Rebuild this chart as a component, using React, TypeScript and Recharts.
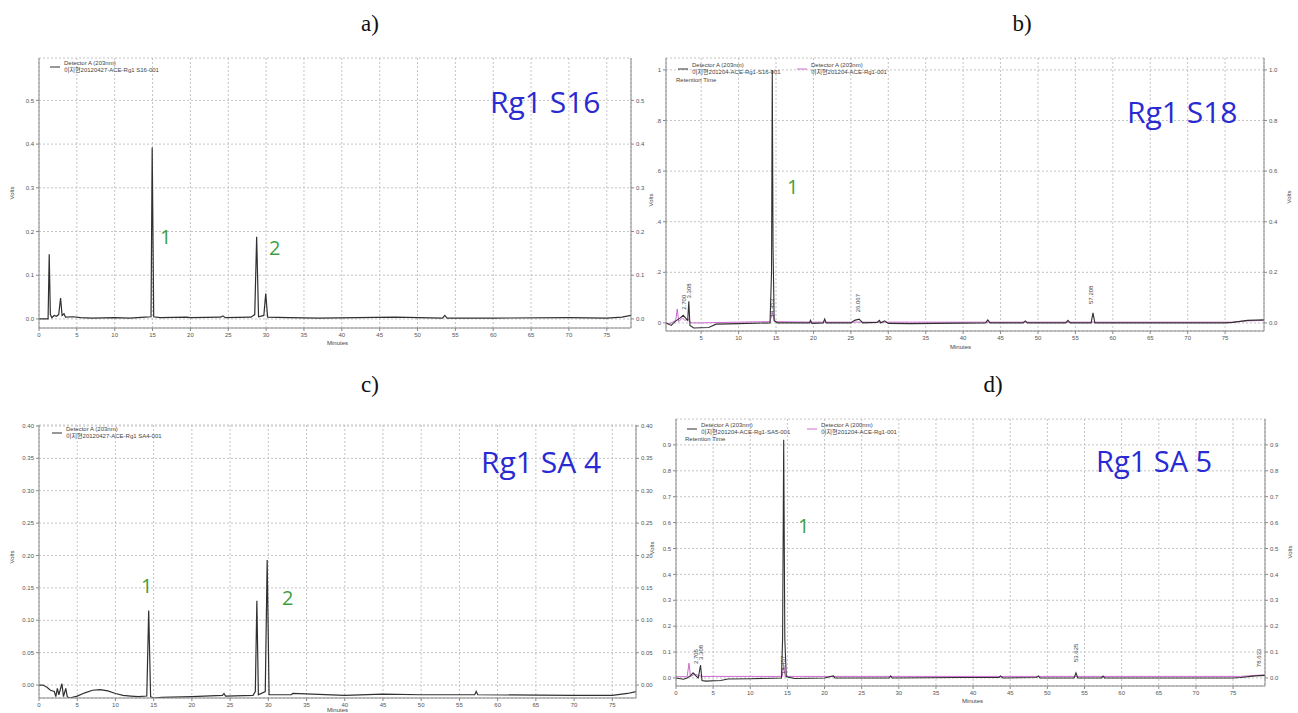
import React from 'react';
import { LineChart, Line, XAxis, YAxis, CartesianGrid, ReferenceDot } from 'recharts';

// ---------- data (time in minutes, signal in volts) ----------
const s16Trace = [
  [0, 0.0], [1.2, 0.0], [1.35, 0.148], [1.5, 0.01], [1.7, 0.003], [2.0, 0.008], [2.3, 0.006], [2.6, 0.01],
  [2.85, 0.048], [3.05, 0.008], [3.3, 0.012], [3.5, 0.004], [4.5, 0.005], [5.5, 0.003], [7, 0.002], [10, 0.003],
  [12, 0.002], [14, 0.004], [14.8, 0.005], [14.95, 0.392], [15.15, 0.005], [16, 0.003], [19.5, 0.004], [20, 0.003],
  [24, 0.004], [24.3, 0.007], [24.6, 0.003], [28, 0.004], [28.5, 0.01], [28.75, 0.188], [29.0, 0.005], [29.7, 0.008],
  [29.95, 0.058], [30.2, 0.004], [33, 0.003], [37, 0.002], [47, 0.004], [53.3, 0.002], [53.6, 0.008], [53.9, 0.002],
  [60, 0.002], [70, 0.003], [75, 0.002], [77, 0.004], [78.2, 0.008],
];

const s18Sample = [
  [0.3, 0.0], [1.0, -0.01], [1.5, 0.005], [2.2, 0.02], [2.6, 0.03], [2.9, 0.02], [3.2, 0.01], [3.35, 0.085],
  [3.5, -0.01], [4, -0.02], [6, -0.018], [7, -0.005], [10, -0.003], [14.2, 0.0], [14.4, 0.2], [14.5, 1.0],
  [14.6, 0.3], [14.75, 0.01], [15.2, 0.0], [19.5, 0.0], [19.6, 0.01], [19.8, -0.002], [21.3, 0.0], [21.5, 0.015],
  [21.7, 0.0], [25, 0.0], [25.5, 0.01], [26.1, 0.015], [26.6, 0.0], [28.5, 0.002], [28.8, 0.01], [29, 0.0],
  [29.5, 0.008], [30, -0.002], [33, -0.003], [43, 0.0], [43.3, 0.012], [43.6, 0.0], [48, 0.0], [48.3, 0.008],
  [48.6, 0.0], [53.7, 0.0], [54, 0.01], [54.3, 0.0], [57.1, 0.0], [57.35, 0.04], [57.6, 0.0], [75, 0.0],
  [76, 0.002], [78, 0.01], [80.2, 0.012],
];
const s18Blank = [
  [0.3, -0.005], [1.0, 0.0], [1.6, 0.01], [1.8, 0.055], [2.0, 0.005], [2.5, 0.02], [2.8, 0.01], [3.3, 0.015],
  [3.6, 0.0], [5, 0.0], [10, 0.003], [14.2, 0.005], [14.5, 0.04], [14.8, 0.005], [20, 0.003], [40, 0.003],
  [60, 0.003], [76, 0.003], [78, 0.008], [80.2, 0.01],
];
const s18Times = [
  { t: 2.7, v: 0.04, text: '2.700' }, { t: 3.4, v: 0.085, text: '3.308' }, { t: 14.5, v: 0.01, text: '14.453' },
  { t: 26.07, v: 0.03, text: '26.067' }, { t: 57.2, v: 0.063, text: '57.208' },
];

const sa4Trace = [
  [0, 0.0], [0.5, 0.0], [1, -0.003], [1.5, -0.008], [2.0, -0.01], [2.2, -0.018], [2.4, -0.005], [2.6, -0.015],
  [3.0, 0.002], [3.2, -0.018], [3.5, -0.005], [3.7, -0.018], [4, -0.02], [5, -0.017], [6, -0.012], [7, -0.008],
  [8, -0.007], [9, -0.009], [10, -0.013], [11, -0.016], [12, -0.017], [13, -0.018], [14.1, -0.017], [14.35, 0.115],
  [14.6, -0.018], [15, -0.02], [16, -0.019], [20, -0.018], [24, -0.016], [24.2, -0.013], [24.4, -0.017], [28, -0.016],
  [28.3, -0.01], [28.5, 0.13], [28.7, -0.015], [29.6, -0.01], [29.85, 0.193], [30.1, -0.015], [33, -0.015],
  [33.2, -0.013], [40, -0.016], [45, -0.014], [50, -0.015], [57, -0.015], [57.2, -0.01], [57.4, -0.015],
  [70, -0.016], [75, -0.016], [77, -0.013], [78.1, -0.01],
];

const sa5Sample = [
  [0, 0.0], [1, -0.005], [1.5, 0.0], [2.0, 0.01], [2.3, 0.02], [2.6, 0.01], [3.0, 0.0], [3.3, 0.05],
  [3.5, -0.01], [4, -0.012], [6, -0.01], [7, -0.004], [10, -0.003], [14.2, 0.0], [14.35, 0.15], [14.5, 0.92],
  [14.65, 0.15], [14.85, 0.005], [16, -0.002], [20, 0.0], [21.2, 0.008], [21.4, 0.0], [28.7, 0.0], [28.9, 0.008],
  [29.1, 0.0], [38, 0.002], [43.5, 0.002], [43.7, 0.008], [44, 0.0], [48.5, 0.002], [48.8, 0.008], [49, 0.0],
  [53.6, 0.0], [53.85, 0.02], [54.1, 0.0], [57.3, 0.0], [57.5, 0.007], [57.7, 0.0], [75, 0.0], [76, 0.002],
  [78, 0.008], [79.3, 0.01],
];
const sa5Blank = [
  [0, 0.005], [1.5, 0.005], [1.75, 0.057], [1.95, 0.005], [2.5, 0.015], [3, 0.01], [3.5, 0.006], [10, 0.006],
  [14.3, 0.006], [14.5, 0.05], [14.7, 0.006], [40, 0.006], [76, 0.006], [78, 0.01], [79.3, 0.012],
];
const sa5Times = [
  { t: 2.8, v: 0.042, text: '2.705' }, { t: 3.4, v: 0.058, text: '3.308' }, { t: 14.45, v: 0.004, text: '14.457' },
  { t: 53.9, v: 0.05, text: '53.625' }, { t: 78.6, v: 0.03, text: '78.633' },
];

const minuteTicks = [0, 5, 10, 15, 20, 25, 30, 35, 40, 45, 50, 55, 60, 65, 70, 75];
const minuteTicksB = [5, 10, 15, 20, 25, 30, 35, 40, 45, 50, 55, 60, 65, 70, 75];
const voltTicksA = [0, 0.1, 0.2, 0.3, 0.4, 0.5];
const voltTicksB = [0, 0.2, 0.4, 0.6, 0.8, 1.0];
const voltTicksC = [0, 0.05, 0.1, 0.15, 0.2, 0.25, 0.3, 0.35, 0.4];
const voltTicksD = [0, 0.1, 0.2, 0.3, 0.4, 0.5, 0.6, 0.7, 0.8, 0.9];

const toPts = (arr: number[][]) => arr.map(([t, v]) => ({ t, v }));

// ---------- styles ----------
const SAMPLE = '#303030';
const BLANK = '#cf6ad0';
const FRAME = '#8a8a8a';
const TICK = { fontSize: 6, fill: '#555', fontFamily: 'Arial, "Liberation Sans", sans-serif' };
const SMALL_FONT = 'Arial, "Liberation Sans", "Noto Sans CJK KR", sans-serif';

const f1 = (v: number) => v.toFixed(1);
const f2 = (v: number) => v.toFixed(2);
const fShort = (v: number) => (v === 0 ? '0' : v === 1 ? '1' : v.toFixed(1).replace('0.', '.'));

const rtLabel = (text: string) => (props: any) => {
  const vb = props.viewBox || {};
  const x = (vb.x ?? 0) + (vb.width ?? 0) / 2;
  const y = (vb.y ?? 0) + (vb.height ?? 0) / 2 - 3;
  return (
    <text x={x} y={y} transform={`rotate(-90 ${x} ${y})`} textAnchor="start" dominantBaseline="middle"
      fontSize={6} fill="#444" fontFamily={SMALL_FONT}>{text}</text>
  );
};

type Cfg = {
  left: number; top: number; width: number; height: number;
  mTop: number; yl: number; yr: number; xh: number;
  xDomain: [number, number]; yDomain: [number, number];
  xTicks: number[]; yTicks: number[];
  lf: (v: number) => string; rf: (v: number) => string;
  series: { data: number[][]; color: string; w: number }[];
  times?: { t: number; v: number; text: string }[];
};

function Panel({ c }: { c: Cfg }) {
  return (
    <div style={{ position: 'absolute', left: c.left, top: c.top }}>
      <LineChart width={c.width} height={c.height} margin={{ top: c.mTop, right: 0, bottom: 0, left: 0 }}>
        <CartesianGrid stroke="#c4c4c4" strokeDasharray="2 2" />
        <XAxis dataKey="t" type="number" domain={c.xDomain} ticks={c.xTicks} allowDataOverflow
          height={c.xh} tick={TICK} tickLine={{ stroke: FRAME }} tickSize={3} axisLine={{ stroke: FRAME }}
          interval={0} />
        <XAxis xAxisId="top" orientation="top" type="number" domain={c.xDomain} allowDataOverflow
          height={0} tick={false} tickLine={false} axisLine={{ stroke: FRAME }} />
        <YAxis type="number" domain={c.yDomain} ticks={c.yTicks} allowDataOverflow width={c.yl}
          tick={TICK} tickFormatter={c.lf} tickLine={{ stroke: FRAME }} tickSize={3} axisLine={{ stroke: FRAME }}
          interval={0} />
        <YAxis yAxisId="r" orientation="right" type="number" domain={c.yDomain} ticks={c.yTicks} allowDataOverflow
          width={c.yr} tick={TICK} tickFormatter={c.rf} tickLine={{ stroke: FRAME }} tickSize={3}
          axisLine={{ stroke: FRAME }} interval={0} />
        {c.series.map((s, i) => (
          <Line key={i} data={toPts(s.data)} dataKey="v" type="linear" stroke={s.color} strokeWidth={s.w}
            dot={false} activeDot={false} isAnimationActive={false} />
        ))}
        {(c.times || []).map((a, i) => (
          <ReferenceDot key={'rt' + i} x={a.t} y={a.v} r={1} fill="none" stroke="none" ifOverflow="visible"
            label={{ content: rtLabel(a.text) } as any} />
        ))}
      </LineChart>
    </div>
  );
}

const panels: Cfg[] = [
  {
    left: 0, top: 40, width: 660, height: 310, mTop: 18, yl: 39, yr: 29, xh: 22,
    xDomain: [0, 78.2], yDomain: [-0.0207, 0.597], xTicks: minuteTicks, yTicks: voltTicksA, lf: f1, rf: f1,
    series: [{ data: s16Trace, color: SAMPLE, w: 1.2 }],
  },
  {
    left: 640, top: 40, width: 658, height: 315, mTop: 18, yl: 26, yr: 34, xh: 24,
    xDomain: [0.3, 80.2], yDomain: [-0.032, 1.047], xTicks: minuteTicksB, yTicks: voltTicksB, lf: fShort, rf: f1,
    series: [{ data: s18Blank, color: BLANK, w: 1 }, { data: s18Sample, color: SAMPLE, w: 1.1 }],
    times: s18Times,
  },
  {
    left: 0, top: 400, width: 660, height: 313, mTop: 25, yl: 39, yr: 24, xh: 15,
    xDomain: [0, 78.1], yDomain: [-0.02, 0.4015], xTicks: minuteTicks, yTicks: voltTicksC, lf: f2, rf: f2,
    series: [{ data: sa4Trace, color: SAMPLE, w: 1.2 }],
  },
  {
    left: 645, top: 400, width: 653, height: 313, mTop: 19, yl: 31, yr: 33, xh: 27,
    xDomain: [0, 79.3], yDomain: [-0.031, 1.0], xTicks: minuteTicks, yTicks: voltTicksD, lf: f1, rf: f1,
    series: [{ data: sa5Blank, color: BLANK, w: 1 }, { data: sa5Sample, color: SAMPLE, w: 1.1 }],
    times: sa5Times,
  },
];

const TITLE_FONT = '"Open Sans", "Noto Sans", sans-serif';
const BLUE = '#2a2ad2';
const GREEN = '#3f9f3f';

function Legend({ x, y, color, l1, l2 }: { x: number; y: number; color: string; l1: string; l2: string }) {
  return (
    <g fontFamily={SMALL_FONT} fontSize={6} fill="#444">
      <line x1={x} y1={y} x2={x + 10} y2={y} stroke={color} strokeWidth={1} />
      <text x={x + 14} y={y - 2}>{l1}</text>
      <text x={x + 14} y={y + 5}>{l2}</text>
    </g>
  );
}

export default function App() {
  return (
    <div style={{ position: 'absolute', left: 0, top: 0, width: 1298, height: 713, background: '#fff', overflow: 'hidden' }}>
      {panels.map((p, i) => <Panel key={i} c={p} />)}
      <svg width={1298} height={713} style={{ position: 'absolute', left: 0, top: 0, pointerEvents: 'none' }}>
        {/* panel letters */}
        <g fontFamily='"Liberation Serif", "DejaVu Serif", serif' fontSize={23} fill="#111" textAnchor="middle">
          <text x={370} y={31}>a)</text>
          <text x={1022} y={31}>b)</text>
          <text x={370} y={392}>c)</text>
          <text x={993} y={392}>d)</text>
        </g>
        {/* sample titles */}
        <g fontFamily={TITLE_FONT} fontSize={30} fill={BLUE}>
          <text x={490} y={113}>Rg1 S16</text>
          <text x={1127} y={123}>Rg1 S18</text>
          <text x={481} y={473}>Rg1 SA 4</text>
          <text x={1096} y={472} fontSize={29}>Rg1 SA 5</text>
        </g>
        {/* peak numbers */}
        <g fontFamily={TITLE_FONT} fontSize={20} fill={GREEN}>
          <text x={160} y={244}>1</text>
          <text x={269} y={255}>2</text>
          <text x={787} y={194}>1</text>
          <text x={141} y={593}>1</text>
          <text x={282} y={605}>2</text>
          <text x={798} y={533}>1</text>
        </g>
        {/* legends */}
        <Legend x={50} y={67} color={SAMPLE} l1="Detector A (203nm)" l2="이지현20120427-ACE-Rg1 S16-001" />
        <Legend x={678} y={69} color={SAMPLE} l1="Detector A (203nm)" l2="이지현201204-ACE-Rg1-S16-001" />
        <Legend x={797} y={69} color={BLANK} l1="Detector A (203nm)" l2="이지현201204-ACE-Rg1-001" />
        <Legend x={52} y={433} color={SAMPLE} l1="Detector A (203nm)" l2="이지현20120427-ACE-Rg1 SA4-001" />
        <Legend x={687} y={429} color={SAMPLE} l1="Detector A (203nm)" l2="이지현201204-ACE-Rg1-SA5-001" />
        <Legend x={807} y={429} color={BLANK} l1="Detector A (200nm)" l2="이지현201204-ACE-Rg1-001" />
        <g fontFamily={SMALL_FONT} fontSize={6} fill="#444">
          <text x={676} y={82}>Retention Time</text>
          <text x={685} y={441}>Retention Time</text>
          {/* axis titles */}
          <text x={327} y={345}>Minutes</text>
          <text x={950} y={349}>Minutes</text>
          <text x={327} y={712}>Minutes</text>
          <text x={962} y={703}>Minutes</text>
          <text x={14} y={193} transform="rotate(-90 14 193)" textAnchor="middle">Volts</text>
          <text x={653} y={200} transform="rotate(-90 653 200)" textAnchor="middle">Volts</text>
          <text x={1291} y={197} transform="rotate(-90 1291 197)" textAnchor="middle">Volts</text>
          <text x={14} y={557} transform="rotate(-90 14 557)" textAnchor="middle">Volts</text>
          <text x={654} y={548} transform="rotate(-90 654 548)" textAnchor="middle">Volts</text>
          <text x={1292} y={552} transform="rotate(-90 1292 552)" textAnchor="middle">Volts</text>
        </g>
      </svg>
    </div>
  );
}
